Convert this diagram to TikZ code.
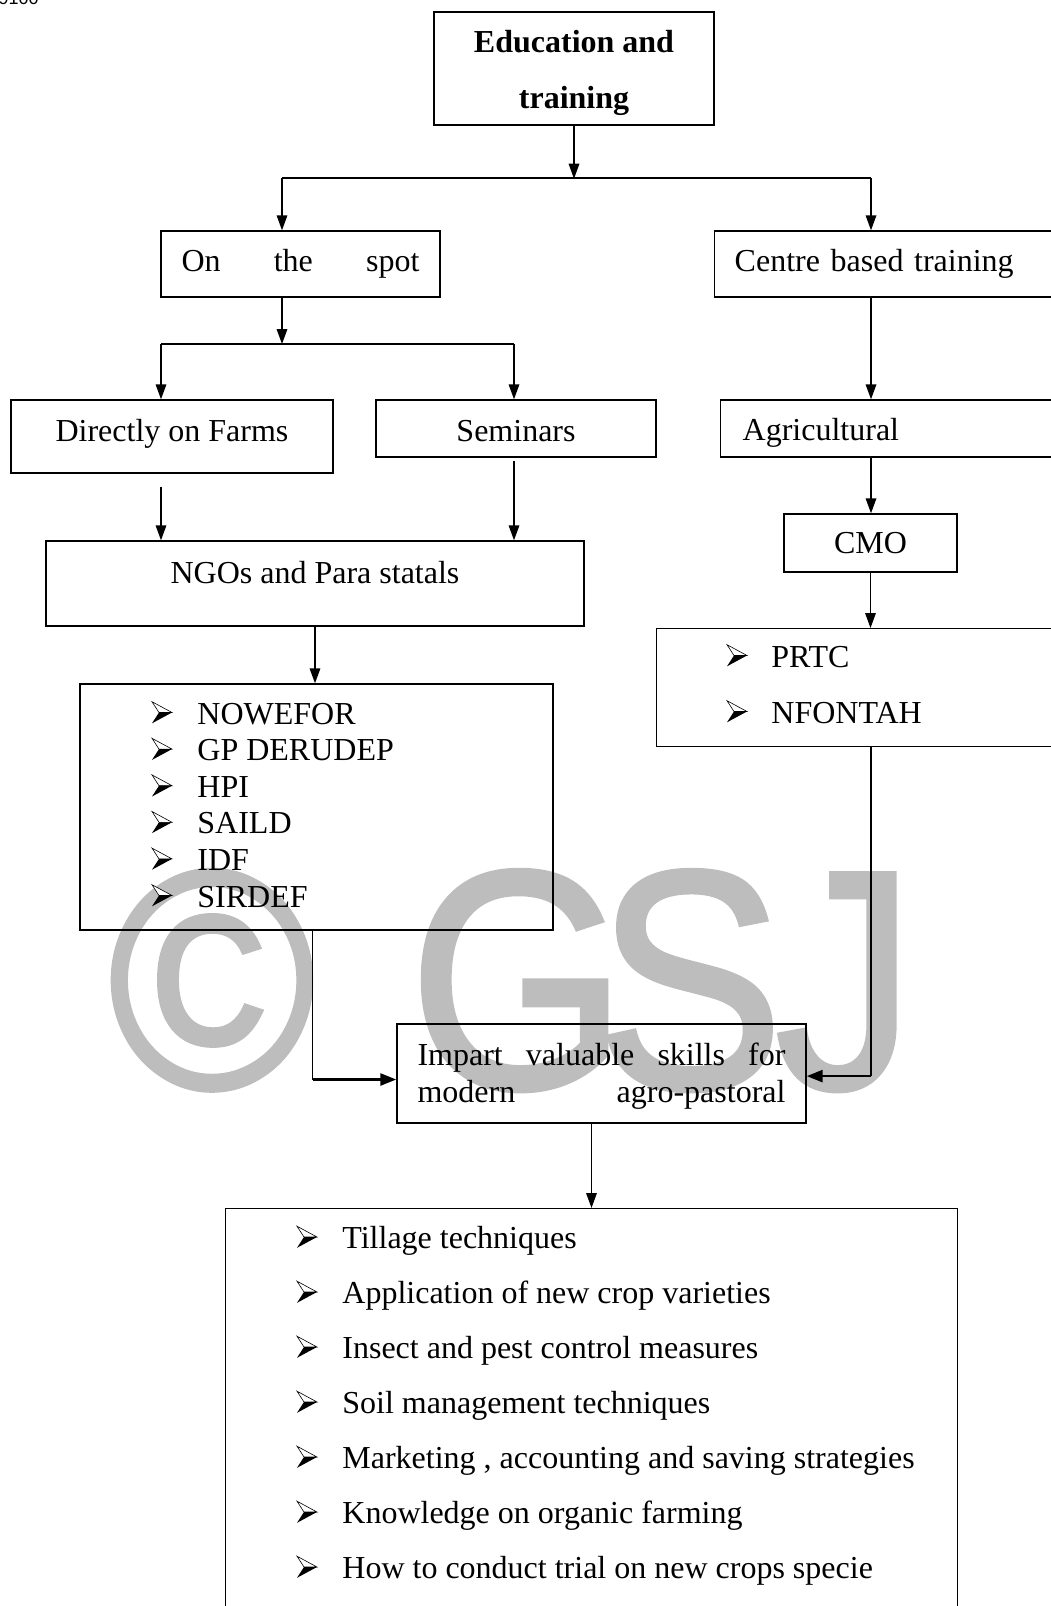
\documentclass[tikz,border=0pt]{standalone}
\usepackage{graphicx}
\usepackage{fontspec}
\setmainfont{Liberation Serif}
\newfontfamily\markfont{Liberation Sans}
\font\wmfont="Liberation Sans:embolden=1.5" at 156pt
\usetikzlibrary{calc,arrows.meta}

\begin{document}
\begin{tikzpicture}[%
        x=1pt, y=-1pt,%
        font=\fontsize{16}{18.5}\selectfont,%
        box/.style={draw, line width=0.7pt, inner sep=0pt},%
        ln/.style={line width=0.7pt},%
        arr/.style={ln, -{Triangle[length=7.5pt, width=5.3pt]}},%
        thickarr/.style={line width=1.3pt, -{Triangle[length=8pt, width=6pt]}}%
    ]
        \tikzset{%
            bullet/.pic={%
                \filldraw[fill=white, line width=0.3pt] (0,-5.4) -- (10,0) -- (3.5,0) -- cycle;%
                \fill[black] (3.5,0) -- (10,0) -- (0,5.4) -- cycle;%
            }%
        }%
        \useasboundingbox (0,0) rectangle (525,803);%

        %
        % Watermark
        %
        \foreach \ch/\x in {©/106,G/259,S/345,J/422.6} {%
            \node[anchor=base, inner sep=0pt, text=black!26, font=\wmfont] (mark \ch) at (\x,544)%
                {\scalebox{0.9}[1]{\ch}};%
        }%
        \node[anchor=base east, inner sep=0pt,%
            font=\markfont\fontsize{9}{10}\selectfont] (pageno) at (19.5,2) {9100};%

        %
        % Boxes
        %
        % Top
        \node[box, minimum width=140pt, minimum height=56.5pt, align=center, text height=43.3pt,%
            font=\bfseries\fontsize{16}{28}\selectfont] (edu) at (287,34.25) {Education and\\training};%

        % Second level
        \node[box, minimum width=139.5pt, minimum height=33pt] (spot) at (150.25,132)%
            {\makebox[119pt][s]{On the spot}};%
        \node[box, anchor=west, minimum height=33pt, inner xsep=10pt, text width=170pt]%
            (centre) at (357,132) {Centre based training};%

        % Third level
        \node[box, minimum width=161pt, minimum height=36.5pt, text depth=6.5pt]%
            (dof) at (86,218.25) {Directly on Farms};%
        \node[box, minimum width=140pt, minimum height=28.5pt, text height=12.8pt]%
            (sem) at (258,214.25) {Seminars};%
        \node[box, anchor=west, minimum height=28.5pt, inner xsep=11pt, text width=170pt,%
            text height=15.9pt] (agri) at (360,214.25) {Agricultural};%

        % Fourth level
        \node[box, minimum width=269pt, minimum height=42.5pt, text depth=11.5pt]%
            (ngo) at (157.5,291.75) {NGOs and Para statals};%
        \node[box, minimum width=86.5pt, minimum height=29pt] (cmo) at (435.25,271.5) {CMO};%

        % Lists
        \node[box, minimum width=236.5pt, minimum height=123pt] (orgs) at (158.25,403.5) {};%
        \foreach \name [count=\i] in {NOWEFOR,GP DERUDEP,HPI,SAILD,IDF,SIRDEF} {%
            \pic at (76,{356.25+18.3*(\i-1)}) {bullet};%
            \node[anchor=base west, inner sep=0pt] (org\i) at (98.5,{362+18.3*(\i-1)}) {\name};%
        }%
        \node[box, anchor=north west, minimum width=220pt, minimum height=59pt] (prtc) at (328,314) {};%
        \foreach \name [count=\i] in {PRTC,NFONTAH} {%
            \pic at (363.5,{327.75+28*(\i-1)}) {bullet};%
            \node[anchor=base west, inner sep=0pt] (centre\i) at (385.5,{333.5+28*(\i-1)}) {\name};%
        }%

        % Impart
        \node[box, minimum width=204.5pt, minimum height=49.5pt, align=left, text height=32.7pt,%
            font=\fontsize{16}{18.8}\selectfont] (impart) at (300.75,536.75)%
            {\makebox[184pt][s]{Impart valuable skills for}\\\makebox[184pt][s]{modern agro-pastoral}};%

        % Skills
        \node[box, anchor=north west, minimum width=366pt, minimum height=220pt] (skills) at (112.5,604) {};%
        \foreach \name [count=\i] in {Tillage techniques,%
                Application of new crop varieties,%
                Insect and pest control measures,%
                Soil management techniques,%
                {Marketing , accounting and saving strategies},%
                Knowledge on organic farming,%
                How to conduct trial on new crops specie} {%
            \pic at (148.5,{618.5+27.5*(\i-1)}) {bullet};%
            \node[anchor=base west, inner sep=0pt] (skill\i) at (171,{624+27.5*(\i-1)}) {\name};%
        }%

        %
        % Connectors
        %
        % Top split
        \path (edu.south) ++(0,26.5) coordinate (split);%
        \coordinate (spot in) at (141,89);%
        \coordinate (centre in) at (435.5,89);%
        \draw[arr] (edu.south) -- (split);%
        \draw[ln] (spot in) -- (centre in);%
        \draw[arr] (spot in) -- (spot in |- spot.north);%
        \draw[arr] (centre in) -- (centre in |- centre.north);%

        % On the spot split
        \coordinate (dof in) at (80.5,172);%
        \coordinate (sem in) at (257,172);%
        \draw[arr] (spot in |- spot.south) -- (spot in |- dof in);%
        \draw[ln] (dof in) -- (sem in);%
        \draw[arr] (dof in) -- (dof in |- dof.north);%
        \draw[arr] (sem in) -- (sem in |- sem.north);%

        % Down to NGOs and the list
        \draw[arr, shorten <=6.5pt] (dof in |- dof.south) -- (dof in |- ngo.north);%
        \draw[arr, shorten <=1.5pt] (sem in |- sem.south) -- (sem in |- ngo.north);%
        \draw[arr] (ngo.south) -- (ngo.south |- orgs.north);%

        % Centre based column
        \draw[arr] (centre in |- centre.south) -- (centre in |- agri.north);%
        \draw[arr] (centre in |- agri.south) -- (centre in |- cmo.north);%
        \draw[arr] (cmo.south) -- (cmo.south |- prtc.north);%

        % Into impart
        \path ([xshift=-2pt]orgs.south) coordinate (orgs out);%
        \path (orgs out |- impart.west) ++(0,3) coordinate (left turn);%
        \path (centre in |- impart.east) ++(0,1.3) coordinate (right turn);%
        \draw[ln] (orgs out) -- (left turn);%
        \draw[thickarr] (left turn) -- (left turn -| impart.west);%
        \draw[ln] (centre in |- prtc.south) -- (right turn);%
        \draw[thickarr] (right turn) -- (right turn -| impart.east);%

        % Down to skills
        \path ([xshift=-5pt]impart.south) coordinate (impart out);%
        \draw[arr] (impart out) -- (impart out |- skills.north);%
    \end{tikzpicture}
\end{document}
